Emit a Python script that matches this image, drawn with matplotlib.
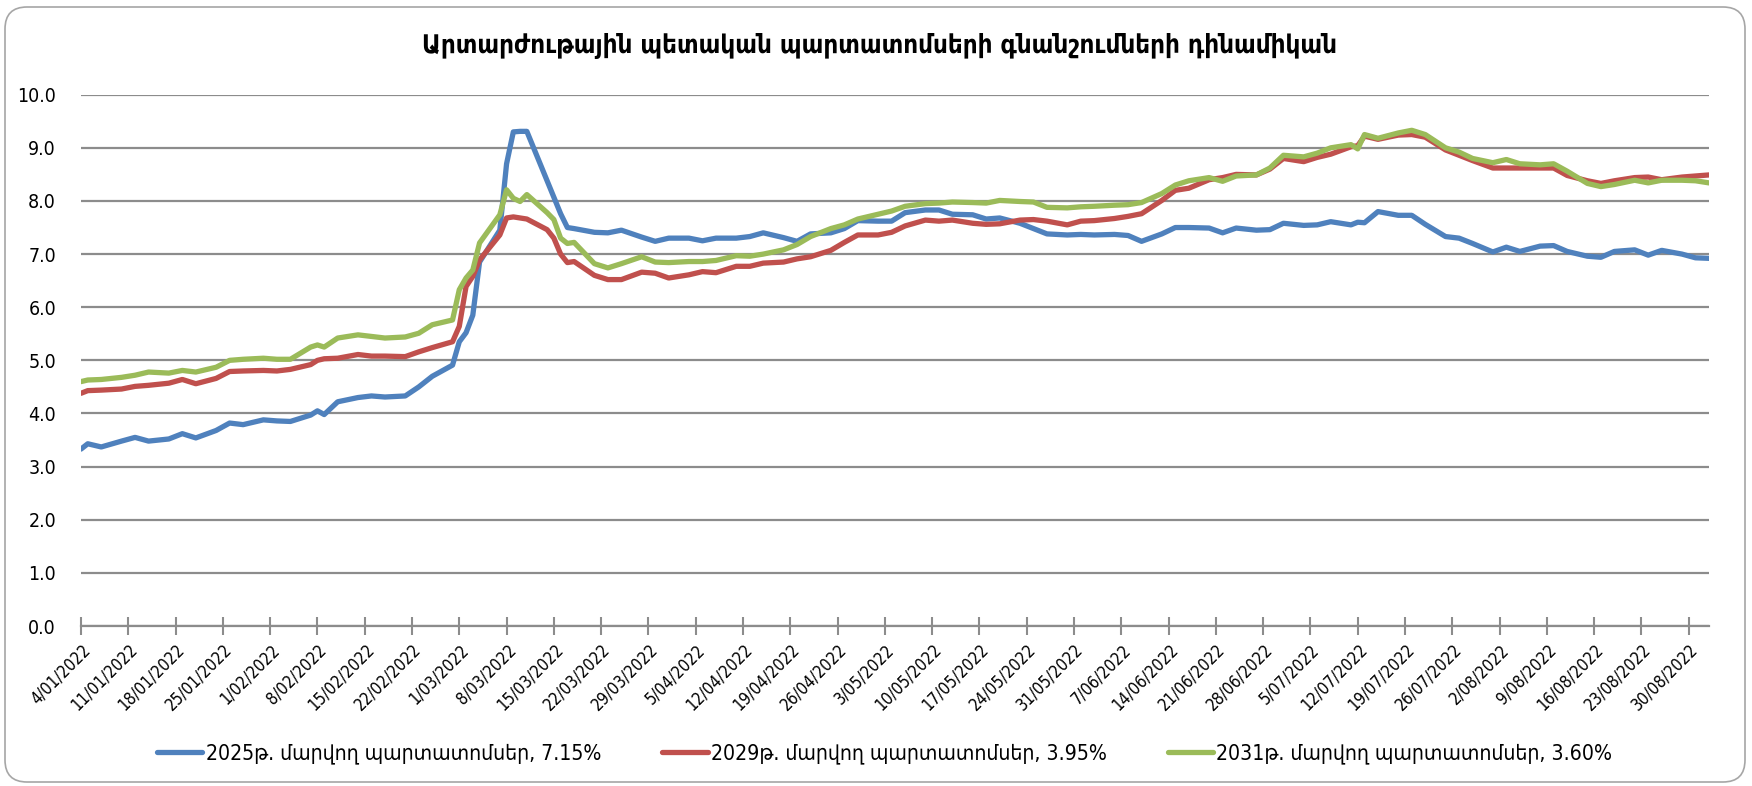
import matplotlib
matplotlib.use('Agg')
import matplotlib.pyplot as plt
import matplotlib.dates as mdates
from matplotlib.ticker import FuncFormatter
from matplotlib.patches import FancyBboxPatch
from matplotlib.transforms import IdentityTransform
import numpy as np
import pandas as pd

# Գնանշումներ (տոկոս), աշխատանքային օրեր
dates = ['2022-01-04', '2022-01-05', '2022-01-07', '2022-01-10', '2022-01-12', '2022-01-14',
         '2022-01-17', '2022-01-19', '2022-01-21', '2022-01-24', '2022-01-26', '2022-01-28',
         '2022-01-31', '2022-02-02', '2022-02-04', '2022-02-07', '2022-02-08', '2022-02-09',
         '2022-02-11', '2022-02-14', '2022-02-16', '2022-02-18', '2022-02-21', '2022-02-23',
         '2022-02-25', '2022-02-28', '2022-03-01', '2022-03-02', '2022-03-03', '2022-03-04',
         '2022-03-07', '2022-03-08', '2022-03-09', '2022-03-10', '2022-03-11', '2022-03-14',
         '2022-03-15', '2022-03-16', '2022-03-17', '2022-03-18', '2022-03-21', '2022-03-23',
         '2022-03-25', '2022-03-28', '2022-03-30', '2022-04-01', '2022-04-04', '2022-04-06',
         '2022-04-08', '2022-04-11', '2022-04-13', '2022-04-15', '2022-04-18', '2022-04-20',
         '2022-04-22', '2022-04-25', '2022-04-27', '2022-04-29', '2022-05-02', '2022-05-04',
         '2022-05-06', '2022-05-09', '2022-05-11', '2022-05-13', '2022-05-16', '2022-05-18',
         '2022-05-20', '2022-05-23', '2022-05-25', '2022-05-27', '2022-05-30', '2022-06-01',
         '2022-06-03', '2022-06-06', '2022-06-08', '2022-06-10', '2022-06-13', '2022-06-15',
         '2022-06-17', '2022-06-20', '2022-06-22', '2022-06-24', '2022-06-27', '2022-06-29',
         '2022-07-01', '2022-07-04', '2022-07-06', '2022-07-08', '2022-07-11', '2022-07-12',
         '2022-07-13', '2022-07-15', '2022-07-18', '2022-07-20', '2022-07-22', '2022-07-25',
         '2022-07-27', '2022-07-29', '2022-08-01', '2022-08-03', '2022-08-05', '2022-08-08',
         '2022-08-10', '2022-08-12', '2022-08-15', '2022-08-17', '2022-08-19', '2022-08-22',
         '2022-08-24', '2022-08-26', '2022-08-29', '2022-08-31', '2022-09-02']

bond_2025 = [3.33, 3.43, 3.37, 3.48, 3.55, 3.48, 3.52, 3.62, 3.54, 3.68, 3.82, 3.79,
             3.88, 3.86, 3.85, 3.97, 4.05, 3.98, 4.22, 4.30, 4.33, 4.31, 4.33, 4.50,
             4.70, 4.91, 5.35, 5.52, 5.85, 6.85, 7.45, 8.70, 9.30, 9.31, 9.31, 8.38,
             8.07, 7.76, 7.50, 7.48, 7.41, 7.40, 7.45, 7.32, 7.24, 7.30, 7.30, 7.25,
             7.30, 7.30, 7.33, 7.40, 7.31, 7.24, 7.38, 7.40, 7.48, 7.63, 7.62, 7.62,
             7.78, 7.83, 7.83, 7.75, 7.74, 7.66, 7.68, 7.58, 7.48, 7.38, 7.36, 7.37,
             7.36, 7.37, 7.35, 7.24, 7.38, 7.50, 7.50, 7.49, 7.40, 7.49, 7.45, 7.46,
             7.58, 7.54, 7.55, 7.61, 7.55, 7.60, 7.59, 7.80, 7.73, 7.73, 7.56, 7.33,
             7.30, 7.20, 7.04, 7.13, 7.05, 7.15, 7.16, 7.05, 6.96, 6.94, 7.05, 7.08,
             6.98, 7.07, 7.00, 6.93, 6.92]

bond_2029 = [4.38, 4.43, 4.44, 4.46, 4.51, 4.53, 4.57, 4.64, 4.56, 4.66, 4.79, 4.80,
             4.81, 4.80, 4.83, 4.92, 5.00, 5.03, 5.04, 5.11, 5.08, 5.08, 5.07, 5.16,
             5.24, 5.35, 5.64, 6.39, 6.58, 6.89, 7.36, 7.68, 7.70, 7.68, 7.66, 7.46,
             7.30, 7.00, 6.84, 6.86, 6.60, 6.52, 6.52, 6.66, 6.64, 6.55, 6.61, 6.67,
             6.65, 6.77, 6.77, 6.83, 6.85, 6.91, 6.95, 7.07, 7.22, 7.36, 7.36, 7.41,
             7.53, 7.64, 7.62, 7.64, 7.58, 7.56, 7.57, 7.64, 7.65, 7.62, 7.55, 7.62,
             7.63, 7.67, 7.71, 7.76, 8.01, 8.20, 8.24, 8.40, 8.44, 8.50, 8.49, 8.60,
             8.80, 8.74, 8.82, 8.88, 9.02, 9.04, 9.22, 9.16, 9.24, 9.25, 9.20, 8.96,
             8.86, 8.76, 8.62, 8.62, 8.62, 8.62, 8.62, 8.48, 8.38, 8.33, 8.38, 8.44,
             8.45, 8.40, 8.45, 8.47, 8.49]

bond_2031 = [4.60, 4.63, 4.64, 4.68, 4.72, 4.78, 4.76, 4.81, 4.78, 4.87, 5.00, 5.02,
             5.04, 5.02, 5.02, 5.25, 5.29, 5.25, 5.42, 5.48, 5.45, 5.42, 5.44, 5.51,
             5.67, 5.76, 6.33, 6.55, 6.70, 7.21, 7.74, 8.21, 8.05, 7.99, 8.12, 7.78,
             7.65, 7.30, 7.20, 7.22, 6.82, 6.74, 6.82, 6.95, 6.85, 6.84, 6.86, 6.86,
             6.88, 6.97, 6.96, 7.00, 7.08, 7.18, 7.33, 7.48, 7.55, 7.66, 7.75, 7.81,
             7.90, 7.95, 7.96, 7.98, 7.97, 7.96, 8.01, 7.99, 7.98, 7.88, 7.87, 7.89,
             7.90, 7.92, 7.93, 7.97, 8.14, 8.30, 8.38, 8.44, 8.37, 8.47, 8.49, 8.62,
             8.86, 8.83, 8.90, 9.00, 9.06, 8.98, 9.25, 9.18, 9.28, 9.33, 9.25, 9.00,
             8.92, 8.80, 8.72, 8.78, 8.70, 8.68, 8.70, 8.56, 8.33, 8.27, 8.31, 8.39,
             8.34, 8.39, 8.39, 8.38, 8.34]

series_names = ['2025թ. մարվող պարտատոմսեր, 7.15%',
                '2029թ. մարվող պարտատոմսեր, 3.95%',
                '2031թ. մարվող պարտատոմսեր, 3.60%']
title = 'Արտարժութային պետական պարտատոմսերի գնանշումների դինամիկան'

plt.rcParams['font.family'] = ['DejaVu Sans']
plt.rcParams['font.stretch'] = 'condensed'

fig = plt.figure(figsize=(17.52, 7.86), dpi=100)
ax = fig.add_axes([81 / 1752, 1 - 626 / 786, (1709 - 81) / 1752, (626 - 94.7) / 786])

x = pd.to_datetime(dates)
colors = ['#4F81BD', '#C0504D', '#9BBB59']
for vals, name, c in zip([bond_2025, bond_2029, bond_2031], series_names, colors):
    ax.plot(x, vals, color=c, lw=3.8, label=name, solid_joinstyle='round', solid_capstyle='round')

ax.set_ylim(0, 10)
ax.set_yticks(np.arange(0, 11, 1))
ax.yaxis.set_major_formatter(FuncFormatter(lambda v, p: '{:.1f}'.format(v)))
ax.set_xlim(pd.Timestamp('2022-01-04'), pd.Timestamp('2022-09-02'))
ax.xaxis.set_major_locator(mdates.WeekdayLocator(byweekday=mdates.TU))
ax.xaxis.set_major_formatter(FuncFormatter(
    lambda v, p: '{}/{:02d}/{}'.format(mdates.num2date(v).day, mdates.num2date(v).month, mdates.num2date(v).year)))

ax.grid(axis='y', color='#8c8c8c', lw=1.6)
ax.set_axisbelow(True)
for s in ['left', 'right', 'top']:
    ax.spines[s].set_visible(False)
ax.spines['bottom'].set_color('#8c8c8c')
ax.spines['bottom'].set_linewidth(1.6)
ax.tick_params(axis='x', direction='inout', length=13, width=1.5, color='#8c8c8c', pad=4,
               labelsize=12, labelcolor='#000000')
ax.tick_params(axis='y', length=0, pad=18, labelsize=14)
for lbl in ax.get_xticklabels():
    lbl.set_rotation(45)
    lbl.set_ha('right')
    lbl.set_va('top')
    lbl.set_rotation_mode('anchor')

fig.text(0.502, 1 - 45 / 786, title, ha='center', va='center', fontsize=18.5, fontweight='bold')
fig.legend(loc='center', bbox_to_anchor=(0.505, 1 - 754 / 786), ncol=3, frameon=False,
           handlelength=2.15, columnspacing=2.9, handletextpad=0.15, fontsize=15.2)

border = FancyBboxPatch((5, 4), 1740, 775, boxstyle='round,pad=0,rounding_size=22',
                        transform=IdentityTransform(), fill=False, ec='#a6a6a6', lw=1.2)
fig.patches.append(border)

fig.savefig('out.png', dpi=100)
